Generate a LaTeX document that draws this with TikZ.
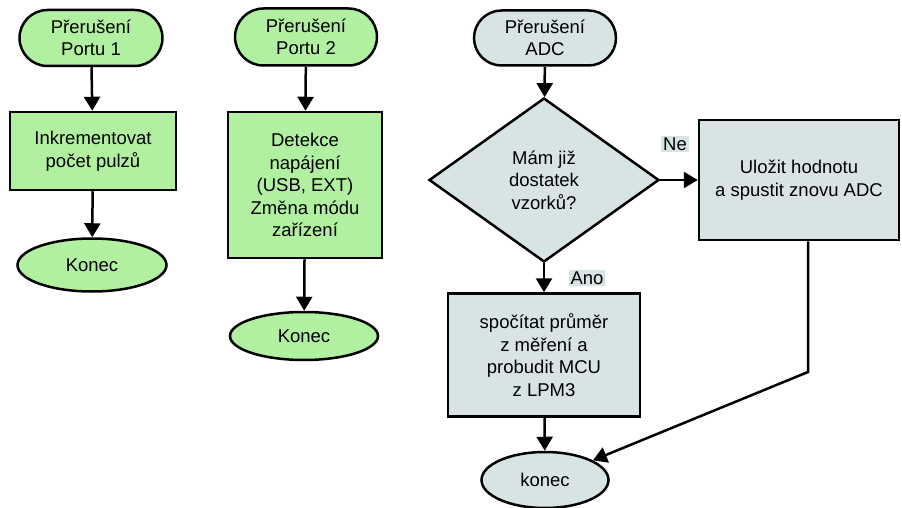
\documentclass[tikz,border=0pt]{standalone}
\usepackage{fontspec}
\setmainfont{Liberation Sans}
\usetikzlibrary{shapes.geometric, shapes.misc, arrows.meta}

\definecolor{zelena}{RGB}{176,240,160}
\definecolor{seda}{RGB}{216,228,228}

\begin{document}
\begin{tikzpicture}[x=1pt, y=-1pt,
    every node/.style={font=\fontsize{18.5}{22.5}\selectfont, align=center, inner sep=0pt},
    tok/.style={draw=black, line width=2.5pt},
    start/.style={tok, rounded rectangle},
    krok/.style={tok, rectangle},
    konec/.style={tok, ellipse},
    dotaz/.style={tok, diamond},
    sip/.style={line width=2.5pt, -{Triangle[length=14pt, width=16pt]}},
    popis/.style={fill=seda, inner sep=2pt}]

\useasboundingbox (0, 0) rectangle (902, 508);

% preruseni portu 1
\node[start, fill=zelena, minimum width=143, minimum height=56] (p1) at (91, 38) {Přerušení\\Portu 1};
\node[krok, fill=zelena, minimum width=166, minimum height=78] (b1) at (93, 151) {Inkrementovat\\počet pulzů};
\node[konec, fill=zelena, minimum width=149, minimum height=53] (k1) at (92, 265) {Konec};

\draw[sip] (p1) -- (b1);
\draw[sip] (b1) -- (k1);

% preruseni portu 2
\node[start, fill=zelena, minimum width=142, minimum height=57] (p2) at (306, 37) {Přerušení\\Portu 2};
\node[krok, fill=zelena, minimum width=154, minimum height=146] (b2) at (305, 185) {Detekce\\napájení\\(USB, EXT)\\Změna módu\\zařízení};
\node[konec, fill=zelena, minimum width=148, minimum height=48] (k2) at (304, 336) {Konec};

\draw[sip] (p2) -- (b2);
\draw[sip] (b2) -- (k2);

% preruseni ADC
\node[start, fill=seda, minimum width=142, minimum height=55] (p3) at (545, 38) {Přerušení\\ADC};
\node[dotaz, fill=seda, minimum width=230, minimum height=164] (d3) at (544, 180) {Mám již\\dostatek\\vzorků?};
\node[krok, fill=seda, minimum width=200, minimum height=120] (u3) at (799, 180) {Uložit hodnotu\\a spustit znovu ADC};
\node[krok, fill=seda, minimum width=192, minimum height=123] (b3) at (544, 355) {spočítat průměr\\z měření a\\probudit MCU\\z LPM3};
\node[konec, fill=seda, minimum width=127, minimum height=56] (k3) at (545, 480) {konec};

\node[popis] (ne) at (675, 144) {Ne};
\node[popis] (ano) at (587, 278) {Ano};

\coordinate (zlom) at (808, 372);

\draw[sip] (p3) -- (d3);
\draw[sip] (d3.east) -- (u3.west);
\draw[sip] (d3.south) -- (b3.north);
\draw[sip] (b3) -- (k3);
\draw[sip] (u3.south -| zlom) -- (zlom) -- (k3);

\end{tikzpicture}
\end{document}
